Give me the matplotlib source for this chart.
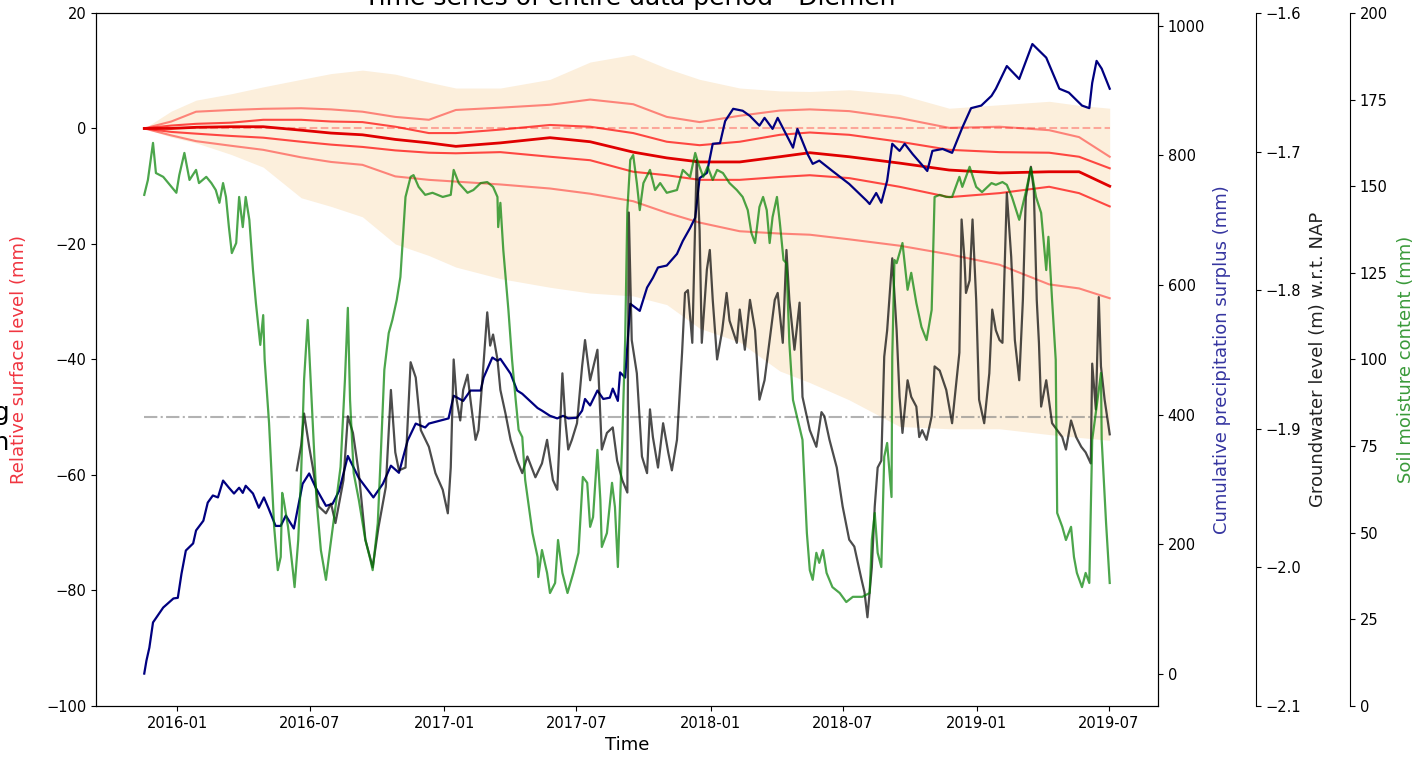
import pandas as pd
import matplotlib.pyplot as plt
import matplotlib.dates as mdates

start = pd.Timestamp("2015-11-17")

# relative surface level (mm), days since start
surf_days = [0, 37, 71, 119, 163, 215, 256, 299, 344, 390, 427, 488, 556, 611,
             670, 716, 761, 816, 871, 912, 966, 1035, 1103, 1172, 1240, 1281, 1323]
surf_a = [0, 1.2, 2.9, 3.2, 3.4, 3.5, 3.3, 2.9, 2.0, 1.5, 3.2, 3.6, 4.1, 5.0,
          4.2, 2.0, 1.1, 2.2, 3.1, 3.3, 3.0, 1.8, 0.1, 0.3, -0.3, -1.5, -4.9]
surf_b = [0, 0.5, 0.8, 1.0, 1.5, 1.5, 1.2, 1.1, 0.3, -0.8, -0.8, -0.2, 0.6, 0.3,
          -0.8, -2.3, -2.9, -2.3, -1.1, -0.7, -1.1, -2.3, -3.7, -4.1, -4.2, -4.9, -6.9]
surf_c = [0, 0, 0.2, 0.3, 0.3, -0.3, -0.8, -1.1, -1.9, -2.5, -3.1, -2.5, -1.6, -2.3,
          -4.1, -5.1, -5.8, -5.8, -4.9, -4.2, -4.9, -6.0, -7.2, -7.7, -7.5, -7.5, -10.0]
surf_d = [0, -0.6, -0.9, -1.3, -1.6, -2.3, -2.8, -3.2, -3.8, -4.2, -4.3, -4.1, -4.9, -5.5,
          -7.5, -8.1, -8.9, -8.9, -8.4, -8.1, -8.6, -10.1, -11.9, -11.2, -10.1, -11.2, -13.5]
surf_e = [0, -1.2, -2.2, -3.0, -3.7, -5.0, -5.8, -6.3, -8.3, -8.9, -9.2, -9.7, -10.4, -11.3,
          -12.6, -14.6, -16.3, -17.8, -18.2, -18.4, -19.2, -20.3, -21.8, -23.6, -27.0, -27.7, -29.4]
band_hi = [0, 3.0, 4.9, 6.0, 7.2, 8.5, 9.5, 10.1, 9.4, 8.0, 7.0, 7.0, 8.5, 11.5,
           12.8, 10.4, 8.5, 7.0, 6.5, 6.4, 6.7, 5.9, 3.5, 4.1, 4.7, 4.0, 3.5]
band_lo = [0, -1.5, -2.5, -4.5, -6.7, -12.0, -13.5, -15.3, -20.0, -22.0, -24.0, -26.0, -27.5, -28.5,
           -29.0, -30.5, -34.6, -37.0, -42.0, -44.0, -47.0, -51.6, -52.0, -52.0, -53.0, -53.5, -54.0]
ref_level = 0
gw_ref_level = -50

# cumulative precipitation surplus (mm)
prec_days = [0, 3, 7, 12, 26, 40, 46, 51, 57, 67, 71, 81, 87, 94, 101, 108, 116, 123, 130, 135,
             139, 149, 157, 164, 170, 180, 187, 194, 205, 217, 226, 235, 249, 258, 267, 279, 294,
             314, 327, 338, 349, 361, 372, 385, 390, 417, 424, 437, 447, 461, 465, 477, 484, 488,
             502, 511, 518, 539, 545, 556, 566, 574, 581, 593, 600, 604, 611, 621, 629, 638, 642,
             649, 652, 659, 666, 679, 689, 697, 704, 716, 730, 738, 748, 755, 761, 771, 779, 789,
             796, 807, 820, 830, 843, 850, 861, 868, 889, 895, 909, 916, 925, 943, 966, 990, 994,
             1003, 1010, 1018, 1025, 1035, 1042, 1053, 1073, 1080, 1094, 1107, 1121, 1133, 1147,
             1161, 1167, 1182, 1199, 1217, 1236, 1254, 1267, 1285, 1295, 1299, 1305, 1312, 1323]
prec_vals = [0, 20, 40, 79, 102, 116, 117, 154, 190, 201, 221, 236, 264, 275, 272, 298, 287, 278,
             287, 279, 290, 278, 256, 272, 256, 228, 228, 244, 224, 293, 309, 287, 259, 262, 282,
             336, 302, 272, 293, 321, 310, 360, 386, 380, 386, 394, 429, 421, 437, 437, 457, 488,
             483, 486, 463, 437, 432, 410, 406, 398, 394, 398, 394, 395, 406, 424, 414, 437, 424,
             426, 440, 421, 465, 457, 571, 560, 596, 611, 627, 630, 648, 668, 688, 704, 765, 773,
             818, 819, 853, 872, 869, 861, 846, 858, 841, 858, 812, 841, 802, 787, 792, 776, 756,
             730, 725, 742, 727, 761, 818, 807, 818, 802, 776, 807, 810, 804, 843, 873, 877, 892,
             903, 938, 918, 972, 951, 903, 897, 877, 873, 912, 946, 934, 903]

# groundwater level (m NAP)
gw_days = [209, 215, 219, 226, 231, 239, 249, 256, 262, 273, 279, 286, 294, 303, 313, 321, 331,
           338, 344, 349, 358, 365, 372, 379, 390, 399, 409, 416, 420, 424, 428, 433, 437, 443,
           447, 454, 458, 463, 470, 474, 478, 484, 488, 495, 502, 511, 518, 525, 536, 545, 552,
           556, 560, 566, 573, 577, 581, 586, 593, 600, 604, 611, 621, 627, 634, 642, 648, 655,
           662, 664, 668, 675, 682, 689, 693, 697, 704, 711, 718, 723, 730, 737, 741, 745, 751,
           757, 761, 764, 771, 775, 779, 785, 792, 798, 802, 812, 816, 823, 830, 837, 843, 850,
           857, 864, 868, 875, 880, 884, 891, 898, 902, 912, 921, 928, 932, 939, 949, 957, 966,
           973, 983, 987, 991, 997, 1001, 1005, 1010, 1014, 1018, 1025, 1031, 1035, 1039, 1046,
           1051, 1058, 1062, 1066, 1072, 1079, 1083, 1090, 1099, 1107, 1113, 1117, 1120, 1124,
           1126, 1131, 1135, 1140, 1144, 1151, 1158, 1162, 1167, 1172, 1176, 1182, 1188, 1193,
           1199, 1204, 1208, 1215, 1219, 1223, 1226, 1229, 1236, 1244, 1251, 1258, 1263, 1270,
           1277, 1284, 1290, 1297, 1299, 1304, 1308, 1311, 1316, 1323]
gw_vals = [-1.930, -1.912, -1.889, -1.913, -1.928, -1.956, -1.961, -1.954, -1.968, -1.937, -1.891,
           -1.903, -1.932, -1.980, -2.000, -1.971, -1.942, -1.872, -1.917, -1.930, -1.928, -1.852,
           -1.863, -1.901, -1.913, -1.932, -1.944, -1.961, -1.928, -1.850, -1.879, -1.894, -1.872,
           -1.861, -1.879, -1.908, -1.901, -1.867, -1.816, -1.840, -1.832, -1.850, -1.872, -1.889,
           -1.908, -1.923, -1.932, -1.920, -1.935, -1.925, -1.908, -1.923, -1.937, -1.944, -1.860,
           -1.894, -1.915, -1.908, -1.896, -1.855, -1.836, -1.865, -1.843, -1.915, -1.903, -1.899,
           -1.923, -1.937, -1.946, -1.744, -1.836, -1.860, -1.920, -1.932, -1.886, -1.906, -1.928,
           -1.896, -1.917, -1.930, -1.908, -1.845, -1.802, -1.800, -1.838, -1.706, -1.757, -1.838,
           -1.785, -1.771, -1.807, -1.850, -1.829, -1.802, -1.822, -1.838, -1.814, -1.843, -1.807,
           -1.829, -1.879, -1.865, -1.836, -1.807, -1.802, -1.838, -1.771, -1.807, -1.843, -1.809,
           -1.877, -1.901, -1.913, -1.888, -1.891, -1.908, -1.928, -1.956, -1.980, -1.985, -2.009,
           -2.018, -2.036, -2.000, -1.956, -1.928, -1.923, -1.848, -1.829, -1.777, -1.829, -1.877,
           -1.903, -1.865, -1.877, -1.884, -1.906, -1.901, -1.908, -1.891, -1.855, -1.858, -1.872,
           -1.896, -1.865, -1.845, -1.749, -1.778, -1.802, -1.793, -1.749, -1.807, -1.879, -1.896,
           -1.860, -1.814, -1.829, -1.836, -1.838, -1.730, -1.776, -1.836, -1.865, -1.807, -1.733,
           -1.711, -1.728, -1.807, -1.838, -1.884, -1.865, -1.896, -1.901, -1.906, -1.915, -1.894,
           -1.906, -1.913, -1.917, -1.925, -1.853, -1.886, -1.805, -1.855, -1.879, -1.904]

# soil moisture content (mm)
soil_days = [0, 5, 12, 16, 26, 44, 48, 55, 62, 71, 75, 85, 92, 98, 103, 108, 112, 116, 120, 126,
             130, 135, 139, 144, 149, 153, 159, 163, 165, 171, 178, 183, 187, 189, 191, 197, 204,
             206, 211, 215, 219, 224, 228, 232, 236, 242, 249, 253, 262, 269, 275, 279, 282, 287,
             294, 303, 310, 313, 320, 324, 329, 335, 340, 346, 351, 358, 365, 369, 376, 385, 395,
             409, 420, 424, 431, 443, 451, 461, 470, 478, 484, 485, 488, 492, 499, 504, 509, 513,
             518, 522, 532, 539, 540, 545, 552, 556, 563, 567, 573, 580, 588, 595, 601, 607, 611,
             615, 621, 625, 627, 634, 641, 645, 649, 655, 659, 662, 666, 670, 675, 679, 684, 693,
             700, 707, 716, 730, 738, 748, 755, 759, 766, 772, 779, 785, 793, 802, 812, 820, 827,
             832, 837, 843, 848, 853, 857, 861, 867, 871, 876, 880, 884, 889, 902, 908, 912, 916,
             921, 925, 930, 935, 943, 953, 962, 971, 984, 994, 997, 1001, 1005, 1010, 1014, 1018,
             1024, 1025, 1028, 1031, 1039, 1046, 1051, 1058, 1065, 1072, 1079, 1083, 1090, 1099,
             1107, 1117, 1121, 1131, 1140, 1148, 1161, 1167, 1176, 1182, 1189, 1199, 1208, 1215,
             1222, 1229, 1236, 1239, 1244, 1249, 1251, 1258, 1263, 1270, 1274, 1278, 1285, 1290,
             1295, 1299, 1305, 1311, 1312, 1318, 1323]
soil_vals = [147.5, 151.8, 162.5, 153.8, 152.7, 148.1, 153.2, 159.6, 151.8, 154.7, 150.9, 152.7,
             150.9, 148.9, 145.2, 150.9, 146.9, 138.2, 130.7, 133.6, 146.9, 138.2, 146.9, 140.3,
             125.8, 116.3, 104.2, 112.8, 99.9, 81.7, 51.7, 39.2, 43.0, 61.5, 59.5, 51.7, 38.4,
             34.3, 47.9, 67.2, 94.1, 111.4, 94.1, 76.8, 59.5, 45.0, 36.4, 43.0, 57.4, 69.0, 94.1,
             114.9, 88.3, 67.2, 59.5, 47.9, 42.1, 39.2, 52.8, 71.9, 97.0, 107.6, 111.4, 117.2,
             123.8, 146.9, 152.7, 153.2, 149.8, 147.5, 148.1, 146.9, 147.5, 154.7, 150.9, 148.1,
             148.9, 150.9, 151.2, 149.8, 146.9, 138.2, 145.2, 131.6, 114.3, 99.9, 88.3, 79.7, 77.6,
             65.2, 49.9, 43.0, 37.2, 45.0, 38.4, 32.6, 35.5, 47.9, 38.4, 32.6, 38.4, 44.2, 66.1,
             64.4, 51.7, 54.5, 73.9, 59.5, 45.9, 49.9, 64.4, 57.4, 40.1, 76.8, 105.6, 143.1, 157.6,
             159.0, 150.9, 143.1, 150.9, 154.7, 148.9, 150.9, 148.1, 148.9, 154.7, 152.7, 159.6,
             156.7, 152.7, 155.6, 151.8, 154.7, 153.8, 150.9, 148.9, 146.9, 143.1, 136.5, 133.6,
             144.0, 146.9, 143.1, 133.6, 141.1, 146.9, 139.4, 128.7, 127.8, 104.8, 88.3, 76.8,
             49.9, 39.2, 36.4, 44.2, 41.3, 45.0, 38.4, 34.3, 32.6, 30.0, 31.5, 31.5, 32.6, 47.9,
             55.7, 44.2, 40.1, 71.9, 75.9, 60.3, 100.7, 128.7, 127.8, 133.6, 120.1, 125.0, 116.3,
             109.4, 105.6, 114.3, 146.9, 147.5, 146.9, 146.9, 152.7, 149.8, 155.6, 149.8, 148.3,
             150.9, 150.4, 151.2, 150.4, 146.9, 140.3, 148.3, 155.3, 146.9, 142.3, 125.8, 135.4,
             117.2, 99.9, 55.7, 51.7, 47.9, 51.7, 43.0, 38.4, 34.3, 38.4, 35.5, 76.8, 86.3, 96.1,
             76.8, 52.8, 35.5]


def to_dates(days):
    return start + pd.to_timedelta(days, unit="D")


surf_t = to_dates(surf_days)
prec_t = to_dates(prec_days)
gw_t = to_dates(gw_days)
soil_t = to_dates(soil_days)

fig = plt.figure(figsize=(14.24, 7.57), dpi=100)
ax = fig.add_axes([0.0674, 0.0674, 0.7458, 0.9155])

ax.fill_between(surf_t, band_lo, band_hi, color="#fcefdc", lw=0)
ax.hlines(ref_level, surf_t.min(), surf_t.max(), colors="red", alpha=0.3, linestyles="--", lw=1.5)
ax.hlines(gw_ref_level, surf_t.min(), surf_t.max(), colors="gray", alpha=0.6, linestyles="-.", lw=1.5)
ax.plot(surf_t, surf_a, color="red", alpha=0.45, lw=1.5)
ax.plot(surf_t, surf_e, color="red", alpha=0.45, lw=1.5)
ax.plot(surf_t, surf_b, color="red", alpha=0.7, lw=1.5)
ax.plot(surf_t, surf_d, color="red", alpha=0.7, lw=1.5)
ax.plot(surf_t, surf_c, color="#e00000", lw=2)
ax.set_ylim(-100, 20)
ax.set_ylabel("Relative surface level (mm)", color="#f03540", fontsize=13)
ax.yaxis.set_label_coords(-0.064, 0.5)
ax.set_xlabel("Time", fontsize=13)
ax.xaxis.set_major_locator(mdates.MonthLocator(bymonth=[1, 7]))
ax.xaxis.set_major_formatter(mdates.DateFormatter("%Y-%m"))
ax.tick_params(labelsize=10.5)

ax2 = ax.twinx()
ax2.plot(prec_t, prec_vals, color="navy", lw=1.6)
ax2.set_ylim(-50, 1020)
ax2.set_ylabel("Cumulative precipitation surplus (mm)", color="#3535a0", fontsize=13)
ax2.yaxis.set_label_coords(1.0518, 0.5)
ax2.tick_params(labelsize=10.5)

ax3 = ax.twinx()
ax3.spines["right"].set_position(("axes", 1.0923))
ax3.plot(gw_t, gw_vals, color="black", alpha=0.7, lw=1.6)
ax3.set_ylim(-2.1, -1.6)
ax3.set_ylabel("Groundwater level (m) w.r.t. NAP", color="#222222", fontsize=13)
ax3.yaxis.set_label_coords(1.1422, 0.5)
ax3.tick_params(labelsize=10.5)

ax4 = ax.twinx()
ax4.spines["right"].set_position(("axes", 1.1808))
ax4.plot(soil_t, soil_vals, color="green", alpha=0.7, lw=1.6)
ax4.set_ylim(0, 200)
ax4.set_ylabel("Soil moisture content (mm)", color="#3a9a3a", fontsize=13)
ax4.yaxis.set_label_coords(1.2250, 0.5)
ax4.tick_params(labelsize=10.5)

for a in (ax3, ax4):
    for s in ("left", "top", "bottom"):
        a.spines[s].set_visible(False)

fig.text(0.4424, 1 - 5 / 757, "Time series of entire data period - Diemen",
         ha="center", va="baseline", fontsize=18)
fig.text(10 / 1424, 0.4346, "monitoring\nDiemen", ha="right", va="center",
         multialignment="right", fontsize=18, linespacing=1.35)

fig.savefig("out.png", dpi=100)
